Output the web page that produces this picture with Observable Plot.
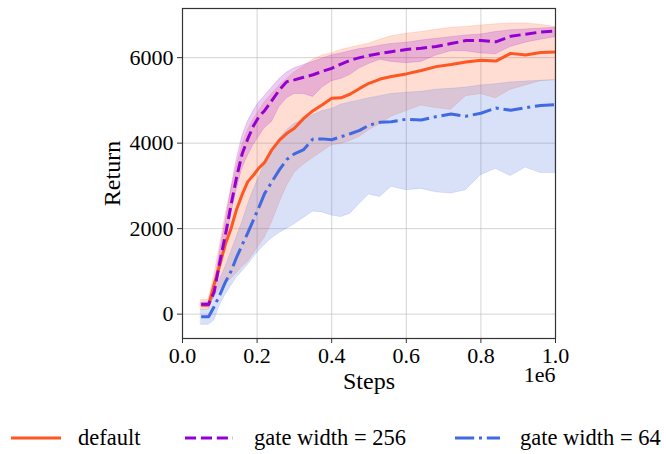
<!DOCTYPE html>
<html><head><meta charset="utf-8">
<script src="https://cdn.jsdelivr.net/npm/d3@7"></script>
<script src="https://cdn.jsdelivr.net/npm/@observablehq/plot@0.6"></script>
<style>
body{margin:0;background:#fff;font-family:"Liberation Serif",serif;color:#000}
#wrap{position:relative;width:666px;height:454px;overflow:hidden;background:#fff}
.leg{position:absolute;top:425px;height:26px;display:flex;align-items:center;font-size:22.5px;white-space:nowrap;font-family:"Liberation Serif",serif}
.leg svg{display:block}
</style></head><body><div id="wrap"></div>
<script>
// Steps in units of 1e6
const steps = [0.05,0.07,0.085,0.1,0.115,0.13,0.145,0.16,0.175,0.19,0.205,0.22,0.24,0.26,0.28,0.3,0.325,0.35,0.375,0.4,0.425,0.45,0.475,0.5,0.53,0.56,0.6,0.64,0.68,0.72,0.76,0.8,0.84,0.88,0.92,0.96,1.0];

const defaultMean = [210,210,700,1150,1640,2000,2450,2800,3100,3250,3420,3550,3850,4070,4230,4350,4580,4760,4900,5050,5060,5150,5280,5400,5500,5560,5620,5700,5790,5840,5900,5940,5920,6100,6060,6120,6130];
const defaultLow  = [100,120,400,580,700,820,950,1100,1220,1400,1600,1780,2150,2600,3000,3300,3500,3650,3800,3950,3980,4050,4150,4300,4450,4620,4750,4880,4820,4780,5100,5150,5050,5250,5350,5450,5480];
const defaultHigh = [330,340,900,1600,2300,2900,3450,3950,4300,4550,4750,4950,5150,5350,5500,5650,5800,5950,6050,6100,6180,6230,6280,6330,6420,6500,6560,6600,6650,6700,6720,6750,6780,6800,6800,6770,6720];

const gw256Mean = [230,230,520,1220,1850,2550,3200,3750,4100,4400,4620,4760,5000,5250,5440,5480,5540,5600,5680,5750,5850,5940,6000,6050,6100,6140,6190,6220,6260,6330,6400,6400,6370,6500,6550,6600,6620];
const gw256Low  = [180,190,400,1050,1650,2300,2900,3400,3700,3950,4150,4350,4500,4850,5050,5150,5150,5080,5300,5450,5500,5600,5750,5850,5950,5900,5870,5900,6050,6150,6150,6100,6080,6250,6350,6420,6480];
const gw256High = [260,280,650,1450,2150,2900,3600,4150,4500,4750,4950,5100,5300,5500,5650,5750,5830,5900,5980,6050,6100,6150,6200,6230,6280,6320,6350,6400,6440,6480,6520,6540,6600,6640,6660,6680,6700];

const gw64Mean = [-60,-60,180,450,750,1000,1330,1620,1900,2200,2500,2820,3100,3380,3620,3750,3850,4100,4100,4080,4150,4220,4300,4420,4490,4500,4560,4540,4620,4680,4630,4700,4820,4770,4830,4880,4900];
const gw64Low  = [-250,-250,-150,200,450,650,850,1000,1150,1320,1480,1620,1780,1900,2000,2100,2250,2400,2380,2310,2270,2350,2580,2800,2740,2980,2900,2930,2850,2820,2900,3250,3400,3230,3430,3300,3300];
const gw64High = [100,100,500,800,1100,1450,1800,2150,2550,2900,3200,3500,3850,4100,4300,4450,4550,4650,4750,4800,4900,4950,5000,5050,5100,5150,5180,5200,5250,5270,5300,5350,5380,5420,5440,5460,5470];

const seriesNames = ["default","gate width = 256","gate width = 64"];
const seriesColors = ["#ff5722","#9400d3","#4169e1"];
const seriesDash = [null,"11.1,4.8","19.2,4.8,3,4.8"];
const xTicks = [0,0.2,0.4,0.6,0.8,1.0];
const yTicks = [0,2000,4000,6000];

function rows(mean, low, high){
  return steps.map((s,i)=>({step:s, mean:mean[i], low:low[i], high:high[i]}));
}
const tables = [rows(defaultMean,defaultLow,defaultHigh), rows(gw256Mean,gw256Low,gw256High), rows(gw64Mean,gw64Low,gw64High)];

const seriesMarks = [];
tables.forEach((t,i)=>{
  seriesMarks.push(Plot.areaY(t,{x:"step",y1:"low",y2:"high",fill:seriesColors[i],fillOpacity:0.2,stroke:seriesColors[i],strokeOpacity:0.15,strokeWidth:1}));
});
tables.forEach((t,i)=>{
  const o = {x:"step",y:"mean",stroke:seriesColors[i],strokeWidth:3,strokeLinejoin:"round",strokeLinecap:"butt"};
  if (seriesDash[i]) o.strokeDasharray = seriesDash[i];
  seriesMarks.push(Plot.lineY(t,o));
});

const chart = Plot.plot({
  width:666, height:400,
  marginLeft:182, marginRight:111, marginTop:8, marginBottom:62,
  x:{domain:[0,1]},
  y:{domain:[-570,7150]},
  style:{fontFamily:"Liberation Serif", fontSize:"22px", background:"white", color:"black", overflow:"visible"},
  marks:[
    Plot.gridX(xTicks,{stroke:"#b0b0b0",strokeOpacity:0.55,strokeWidth:1}),
    Plot.gridY(yTicks,{stroke:"#b0b0b0",strokeOpacity:0.55,strokeWidth:1}),
    ...seriesMarks,
    Plot.axisX(xTicks,{tickFormat:d=>d.toFixed(1),tickSize:5,tickPadding:4,fontSize:22,label:null,stroke:"#333"}),
    Plot.axisY(yTicks,{tickFormat:d=>String(d),tickSize:5,tickPadding:4,fontSize:22,label:null,stroke:"#333"}),
    Plot.frame({stroke:"#333",strokeWidth:1.2}),
    Plot.text(["Return"],{frameAnchor:"left",dx:-70,rotate:-90,fontSize:24,textAnchor:"middle"}),
    Plot.text(["Steps"],{frameAnchor:"bottom",dy:33,lineAnchor:"top",fontSize:24}),
    Plot.text(["1e6"],{frameAnchor:"bottom-right",textAnchor:"end",dy:28,lineAnchor:"top",fontSize:22})
  ]
});
const wrap = document.getElementById("wrap");
chart.style.position="absolute"; chart.style.left="0"; chart.style.top="0";
wrap.appendChild(chart);

// Legend
const legPos = [{line:11,len:50,text:78},{line:185,len:48,text:254},{line:455,len:45,text:520}];
seriesNames.forEach((name,i)=>{
  const p = legPos[i];
  const ln = document.createElement("div");
  ln.className="leg"; ln.style.left=p.line+"px";
  ln.innerHTML = `<svg width="${p.len}" height="10"><line x1="0" y1="5" x2="${p.len}" y2="5" stroke="${seriesColors[i]}" stroke-width="3" ${seriesDash[i]?`stroke-dasharray="${seriesDash[i]}"`:""}/></svg>`;
  wrap.appendChild(ln);
  const tx = document.createElement("div");
  tx.className="leg"; tx.style.left=p.text+"px"; tx.textContent=name;
  wrap.appendChild(tx);
});
</script></body></html>
